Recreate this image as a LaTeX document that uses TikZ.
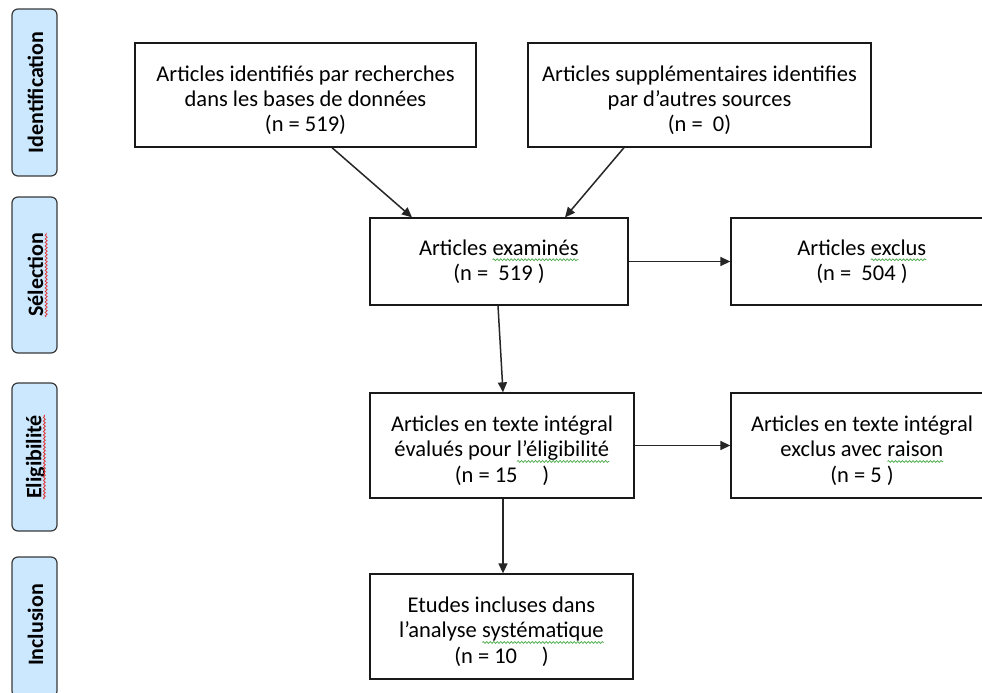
\documentclass[tikz,border=0pt]{standalone}
\usepackage{fontspec}
\setmainfont{Carlito}
\usetikzlibrary{arrows.meta,decorations.pathmorphing}
\definecolor{labelfill}{HTML}{CCE8FF}
\definecolor{labeldraw}{HTML}{3A3A3A}
\definecolor{wavered}{HTML}{E03838}
\definecolor{wavegreen}{HTML}{44A844}
\newcommand\wavy[2]{\tikz[baseline=(wv.base)]{%
  \node[inner sep=0pt, outer sep=0pt, draw=none, fill=none, minimum width=0pt,
        minimum height=0pt, anchor=base] (wv) at (0,0) {#2};
  \draw[draw=#1, line width=0.7pt, sharp corners, decorate,
        decoration={snake, amplitude=0.9pt, segment length=3.5pt}]
        ([yshift=-4.5pt]wv.base west) -- ([yshift=-4.5pt]wv.base east);}}
\newcommand\firstline{\rule{0pt}{26pt}}
\tikzset{
  flowbox/.style={draw=black!90, line width=1.3pt, fill=white, align=center, inner sep=0pt,
    font=\fontsize{22.5}{25.2}\selectfont},
  phase/.style={draw=labeldraw, fill=labelfill, line width=1.2pt, rounded corners=6pt,
    inner sep=0pt, minimum width=45pt},
  phasetext/.style={rotate=90, inner sep=0pt, font=\bfseries\fontsize{22}{24}\selectfont},
  spellwave/.style={draw=wavered, line width=0.8pt, decorate,
    decoration={snake, amplitude=1pt, segment length=3.5pt}},
  arrowline/.style={line width=1.5pt, draw=black!85, -{Triangle[length=10pt,width=9pt]}},
}
\begin{document}
\begin{tikzpicture}[x=1pt,y=-1pt]
\useasboundingbox (0,0) rectangle (982,693);
\clip (0,0) rectangle (982,693);
\fill[white] (0,0) rectangle (982,693);

% phase labels
\node[phase, minimum height=167pt] (p1) at (34.5,92.5) {};
\node[phase, minimum height=156pt] (p2) at (34.5,275) {};
\node[phase, minimum height=148pt] (p3) at (34.5,457) {};
\node[phase, minimum height=140pt] (p4) at (34.5,627) {};
\node[phasetext] (t1) at ([xshift=1pt]p1.center) {Identification};
\node[phasetext] (t2) at ([xshift=1pt]p2.center) {Sélection};
\node[phasetext] (t3) at ([xshift=1pt]p3.center) {Eligibilité};
\node[phasetext] (t4) at ([xshift=1pt,yshift=2pt]p4.center) {Inclusion};
\draw[spellwave] ([xshift=3pt]t2.base west) -- ([xshift=3pt]t2.base east);
\draw[spellwave] ([xshift=3pt]t3.base west) -- ([xshift=3pt]t3.base east);

% boxes
\node[flowbox, minimum width=341pt, minimum height=104pt] (b1) at (305.5,95)
  {\firstline Articles identifiés par recherches\\dans les bases de données\\(n = 519)};
\node[flowbox, minimum width=343pt, minimum height=104pt] (b2) at (699.5,95)
  {\firstline Articles supplémentaires identifies\\par d’autres sources\\(n =\ \ 0)};
\node[flowbox, minimum width=258pt, minimum height=87pt] (exam) at (499,261.5)
  {Articles \wavy{wavegreen}{examinés}\\(n =\ \ 519 )};
\node[flowbox, minimum width=262pt, minimum height=87pt] (excl) at (862,261.5)
  {Articles \wavy{wavegreen}{exclus}\\(n =\ \ 504 )};
\node[flowbox, minimum width=264pt, minimum height=105pt] (eval) at (502,445.5)
  {\firstline Articles en texte intégral\\évalués pour \wavy{wavegreen}{l’éligibilité}\\(n = 15\hspace{1.1em})};
\node[flowbox, minimum width=262pt, minimum height=105pt] (rais) at (862,445.5)
  {\firstline Articles en texte intégral\\exclus avec \wavy{wavegreen}{raison}\\(n = 5 )};
\node[flowbox, minimum width=263pt, minimum height=105pt] (etud) at (501.5,626.5)
  {\firstline Etudes incluses dans\\l’analyse \wavy{wavegreen}{systématique}\\(n = 10\hspace{1.1em})};

% connectors
\draw[arrowline] ([xshift=26.5pt]b1.south) -- ([xshift=-87pt]exam.north);
\draw[arrowline] ([xshift=-75.5pt]b2.south) -- ([xshift=66pt]exam.north);
\draw[arrowline] (exam.east) -- (excl.west);
\draw[arrowline] ([xshift=-1pt]exam.south) -- ([xshift=1pt]eval.north);
\draw[arrowline] (eval.east) -- (rais.west);
\draw[arrowline] ([xshift=1pt]eval.south) -- ([xshift=1.5pt]etud.north);
\end{tikzpicture}
\end{document}
